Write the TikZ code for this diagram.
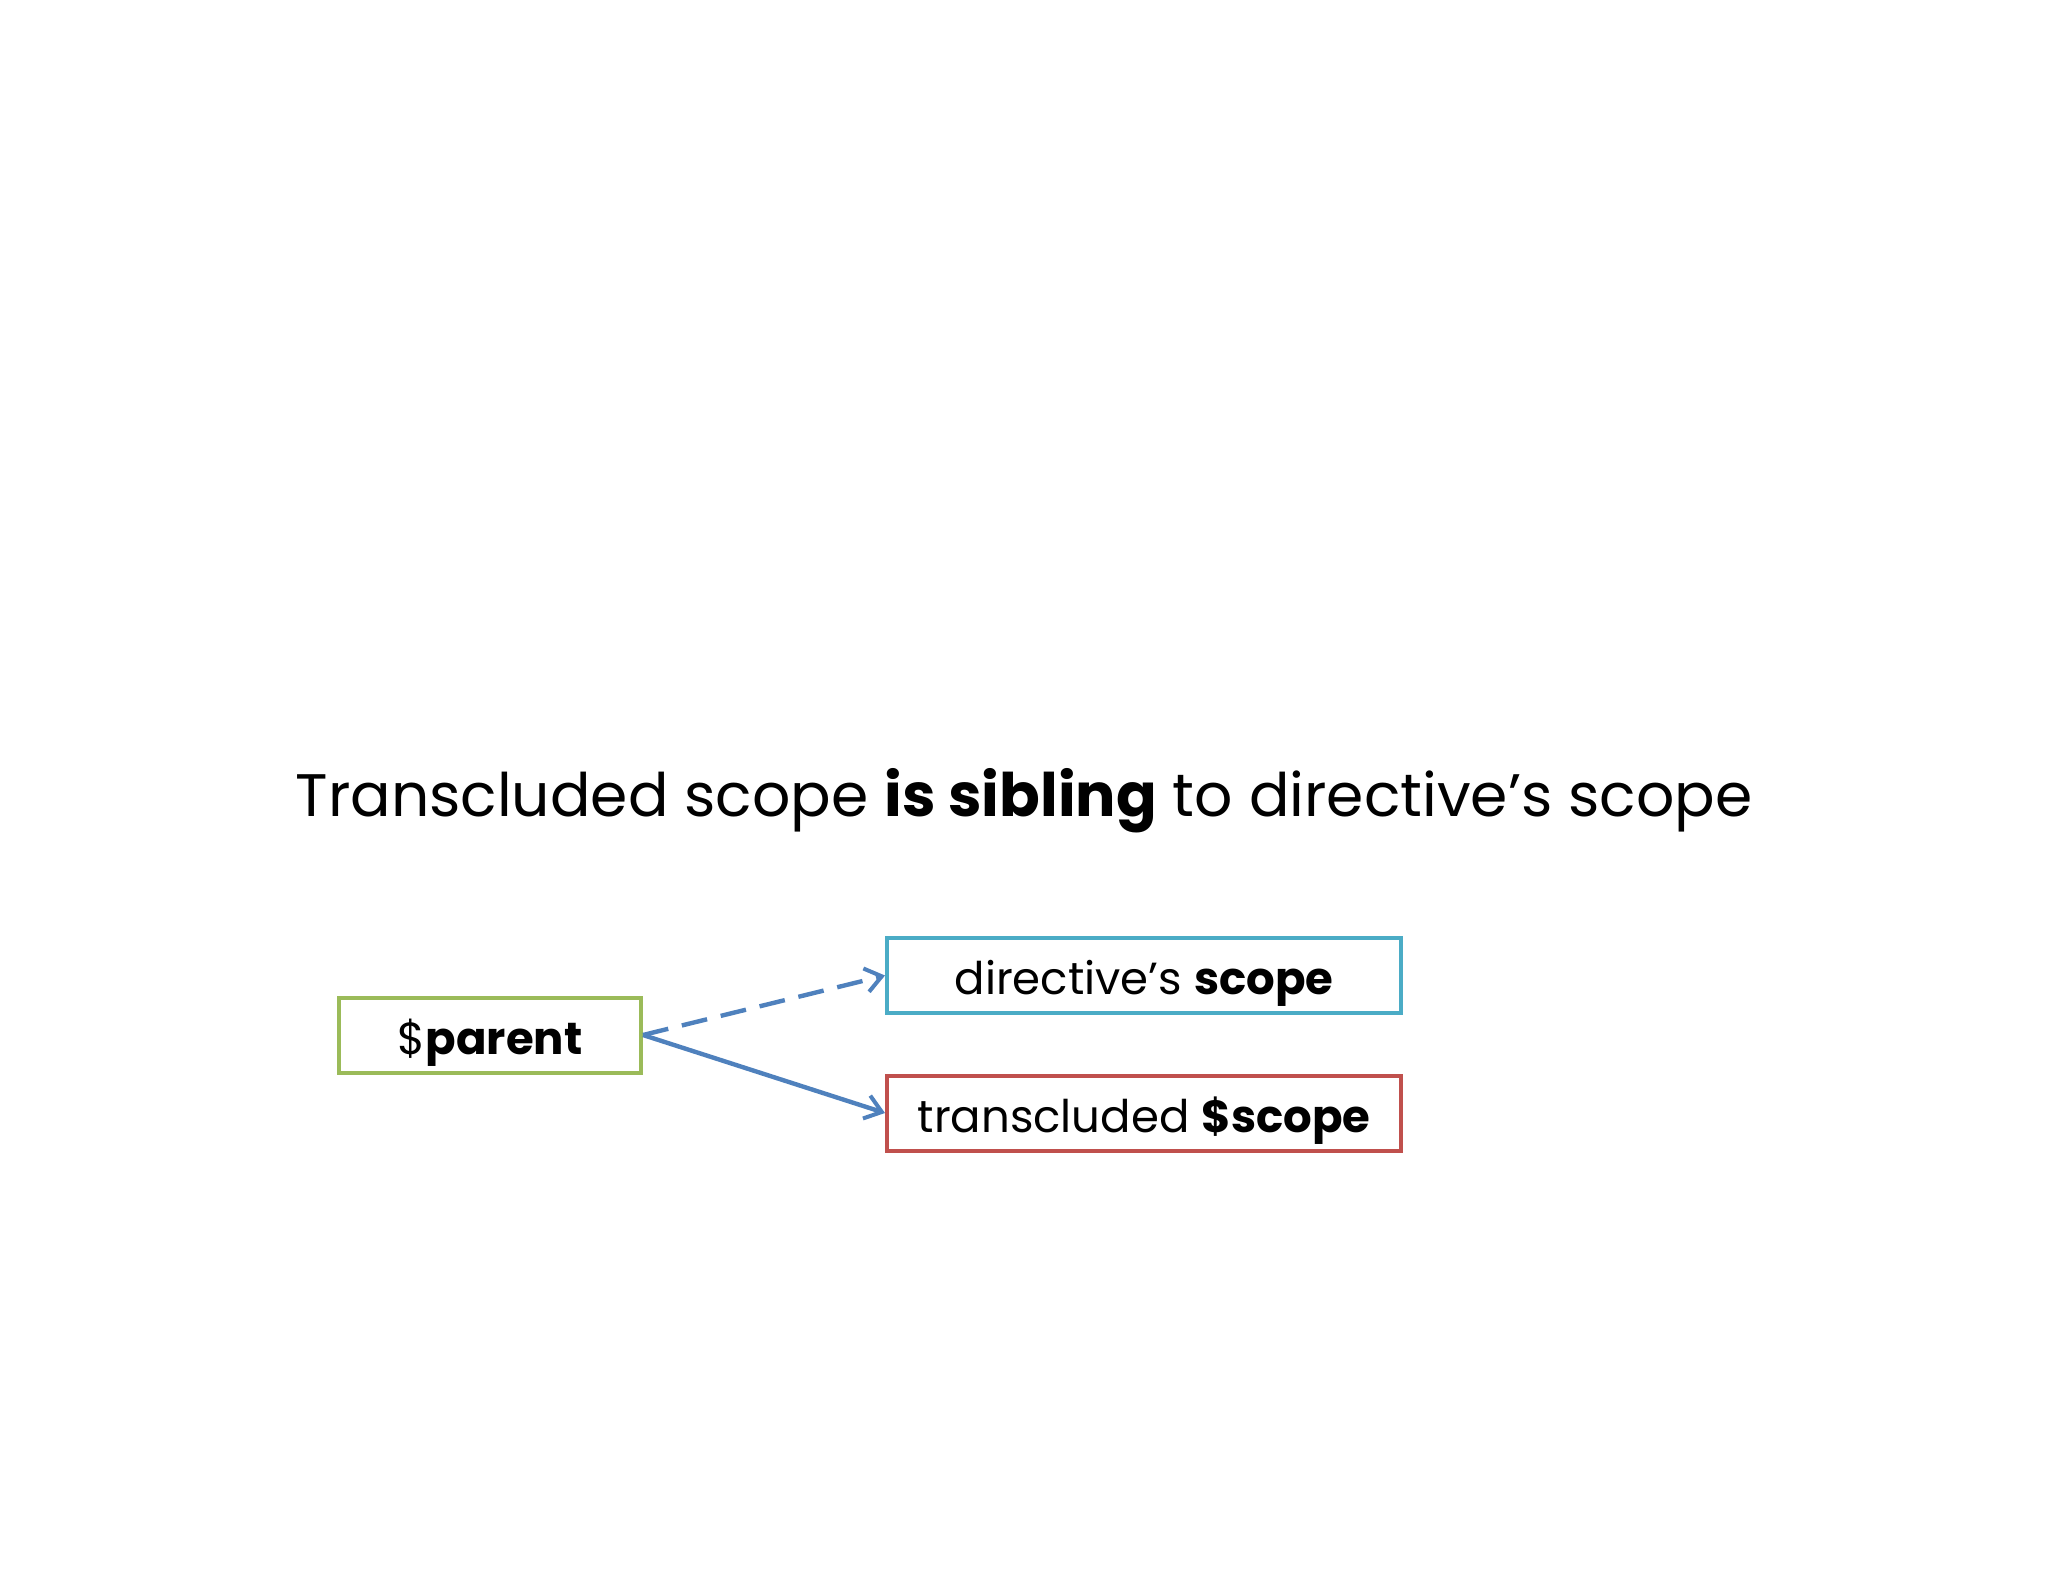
\documentclass[tikz,border=0pt]{standalone}
\usepackage{fontspec}
\setmainfont{Poppins}
\usetikzlibrary{arrows.meta}
\definecolor{boxgreen}{HTML}{9BBB59}
\definecolor{boxaqua}{HTML}{4BACC6}
\definecolor{boxred}{HTML}{C0504D}
\definecolor{arrowblue}{HTML}{4F81BD}
\tikzset{
  box/.style={draw, line width=2pt, minimum width=257pt, minimum height=37.5pt, inner sep=0pt, text height=19pt, text depth=0pt, font=\fontsize{22.5}{26}\selectfont, fill=white},
  conn/.style={arrowblue, line width=2.2pt, -{Straight Barb[length=8pt,width=12pt,line width=2pt]}},
}
\begin{document}
\begin{tikzpicture}[x=0.5pt,y=-0.5pt]
\useasboundingbox (0,0) rectangle (2048,1582);
\fill[white] (0,0) rectangle (2048,1582);
\node[anchor=base, font=\fontsize{30}{36}\selectfont, inner sep=0pt] (title) at (1024,816) {Transcluded scope \textbf{is sibling} to directive’s scope};
\node[box, draw=boxgreen, minimum width=151pt] (parent) at (490,1035) {\$\textbf{parent}};
\node[box, draw=boxaqua] (dir) at (1144,975.5) {directive’s \textbf{scope}};
\node[box, draw=boxred] (trans) at (1144,1113) {transcluded \textbf{\$scope}};
\draw[conn, dashed, dash pattern=on 13pt off 7pt] (parent.east) -- (dir.west);
\draw[conn] (parent.east) -- (trans.west);
\end{tikzpicture}
\end{document}
